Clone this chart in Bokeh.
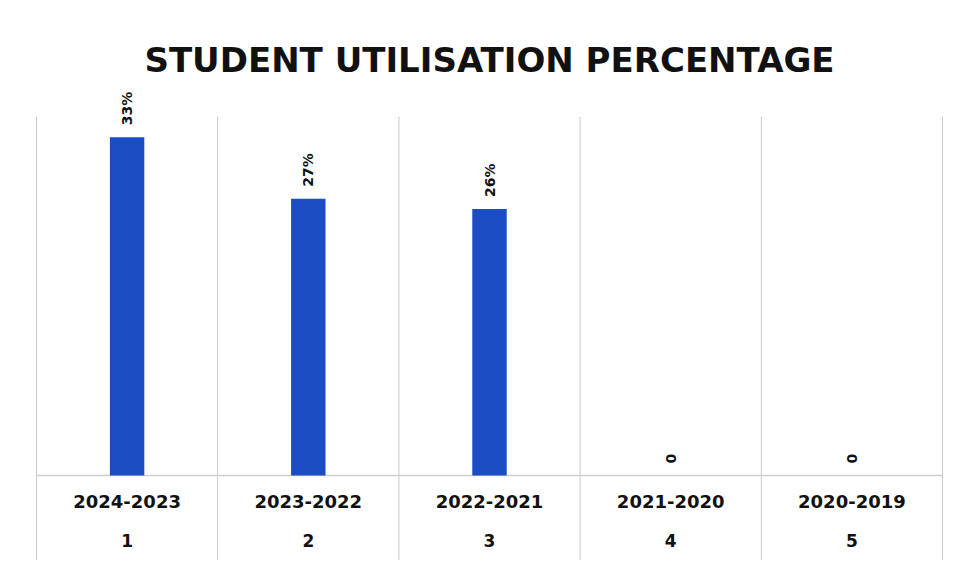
import math
from bokeh.plotting import figure
from bokeh.models import Range1d, ColumnDataSource
from bokeh.core.properties import value
from bokeh.embed import file_html
from bokeh.resources import INLINE

# ---- data ----
years = ["2024-2023", "2023-2022", "2022-2021", "2021-2020", "2020-2019"]
serial = ["1", "2", "3", "4", "5"]
utilisation = [0.33, 0.27, 0.26, 0.0, 0.0]
value_labels = ["33%", "27%", "26%", "0", "0"]

Y_MAX = 0.35
FONT = "DejaVu Sans"

n = len(years)
xc = [i + 0.5 for i in range(n)]

p = figure(width=952, height=562, output_backend="svg", toolbar_location=None,
           x_range=Range1d(-0.0331, n + 0.0331), y_range=Range1d(-0.0829, 0.3834),
           min_border_left=30, min_border_right=4, min_border_top=82, min_border_bottom=2,
           title="STUDENT UTILISATION PERCENTAGE")
p.title.align = "center"
p.title.text_font = FONT
p.title.text_font_size = "34px"
p.title.text_font_style = "bold"
p.title.text_color = "#111111"
p.title.standoff = 6
p.xaxis.visible = False
p.yaxis.visible = False
p.xgrid.visible = False
p.ygrid.visible = False
p.outline_line_color = None
p.background_fill_color = "white"
p.border_fill_color = "white"

# category separators (extend into the label table)
bounds = list(range(n + 1))
p.segment(x0=bounds, x1=bounds, y0=[p.y_range.start] * len(bounds), y1=[Y_MAX] * len(bounds),
          line_color="#c8c8c8", line_width=1)
# baseline
p.segment(x0=[0], x1=[n], y0=[0], y1=[0], line_color="#cfcfcf", line_width=1.5)

src = ColumnDataSource(dict(x=xc, top=utilisation, lab=value_labels, yr=years, sn=serial))
p.vbar(x="x", top="top", bottom=0, width=0.19, source=src,
       fill_color="#1a4cc4", line_color=None)

p.text(x="x", y="top", text="lab", source=src, angle=math.pi / 2,
       text_align="left", text_baseline="middle", y_offset=-12,
       text_font=value(FONT), text_font_style="bold", text_font_size="14px",
       text_color="#111111")

p.text(x="x", y=0, text="yr", source=src, text_align="center", text_baseline="middle",
       y_offset=26, text_font=value(FONT), text_font_style="bold",
       text_font_size="18px", text_color="#111111")
p.text(x="x", y=0, text="sn", source=src, text_align="center", text_baseline="middle",
       y_offset=65, text_font=value(FONT), text_font_style="bold",
       text_font_size="17px", text_color="#111111")

open("out.html", "w").write(file_html(p, INLINE))
